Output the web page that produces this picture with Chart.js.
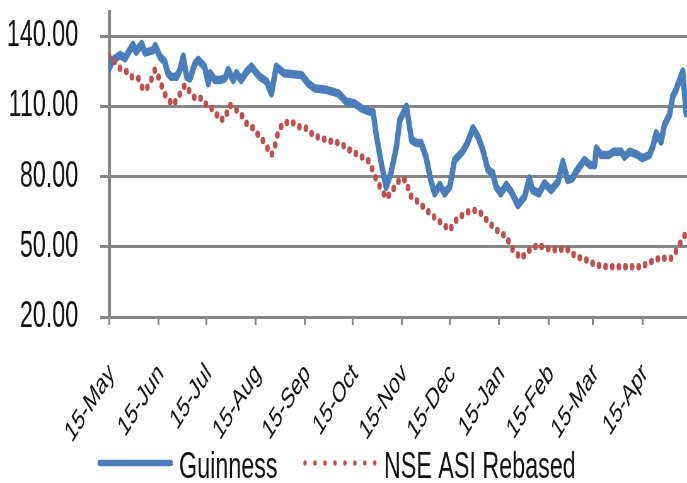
<!DOCTYPE html>
<html>
<head>
<meta charset="utf-8">
<title>Guinness vs NSE ASI</title>
<script src="https://cdn.jsdelivr.net/npm/chart.js"></script>
<style>
  html, body { margin: 0; padding: 0; background: #fff; overflow: hidden; }
  /* the source picture is squeezed sideways, so draw wide and squeeze */
  #wrap { width: 1090px; height: 483px; transform: scaleX(0.6303); transform-origin: 0 0; }
</style>
</head>
<body>
<div id="wrap"><canvas id="myChart" width="1090" height="483"></canvas></div>
<script>
// x = days after 15-May
const tickDays = [0, 31, 61, 92, 123, 153, 184, 214, 245, 276, 304, 335];
const tickLabels = ['15-May', '15-Jun', '15-Jul', '15-Aug', '15-Sep', '15-Oct',
                    '15-Nov', '15-Dec', '15-Jan', '15-Feb', '15-Mar', '15-Apr'];
const yTicks = [20, 50, 80, 110, 140];

const guinnessDays = [0, 2.5, 7, 10, 15, 17, 20.5, 22.6, 27.8, 29, 32, 35, 37, 39, 42.5, 44.5, 46.6, 48.7,
  50.8, 54, 56, 60, 62.3, 63.4, 66.5, 69.6, 72.8, 74.8, 78, 80, 83, 86.4, 89.5, 92.7, 94.7, 99, 102, 105,
  110, 121, 125, 129, 137, 144, 149, 154, 158.5, 163.7, 165.8, 168, 171, 174, 177, 180.5, 182.6, 186.8,
  190, 193, 196, 199, 202, 204.5, 207.7, 210.8, 214, 217, 222, 225, 228.5, 231.7, 234.8, 238, 241, 243,
  246, 249.5, 252.6, 256.8, 261, 264, 266, 270, 273.5, 277.7, 282, 285, 288, 291, 294, 298.6, 302, 305,
  306, 309, 314, 317, 321.6, 323.7, 327, 332, 335, 339.4, 341.5, 343.6, 346.7, 348.8, 352, 354, 356,
  360.3, 362.4];
const guinnessValues = [126.2, 129.8, 131.9, 130.5, 136.2, 133.3, 136.6, 132.9, 134, 135.7, 131.2, 129,
  124.1, 122.6, 122.6, 125.5, 131.2, 122.6, 121.9, 128.3, 129.8, 126.9, 119.8, 124.1, 121.2, 121.2, 121.9,
  125.5, 121.2, 124.1, 121.2, 124.8, 126.9, 124.1, 122.6, 120.5, 115.5, 126.9, 124.1, 123.3, 119.8, 117.7,
  116.9, 115.5, 111.9, 111.3, 109.1, 107.7, 107.7, 97, 85.6, 75.6, 81.4, 92.7, 104.1, 109.8, 95.6, 94.3,
  94.3, 88.5, 78.5, 72.8, 76.4, 72.8, 75.6, 87, 90.6, 94.2, 100.6, 97, 91.3, 82.8, 81.4, 75.6, 72.8, 76.4,
  73.5, 67.8, 71.4, 79.2, 74.2, 72.8, 77.1, 74.2, 77.8, 86.3, 78.5, 79.2, 82.8, 87, 84.9, 84.9, 92, 89.2,
  89.2, 90.6, 90.6, 88.5, 90.6, 89.2, 87.8, 89.2, 92.7, 98.5, 94.9, 102, 106.3, 114.1, 116.9, 124.8, 107];

const nseDays = [0, 3.8, 6.9, 11.1, 14.2, 18.4, 21.5, 24.7, 26.8, 28.9, 32, 34.1, 37.2, 40.3, 43.5, 47.7,
  50.8, 54, 58.2, 60.2, 63.4, 66.5, 69.6, 72.8, 75.9, 79, 83.2, 86.4, 89.5, 92.7, 95.8, 98.9, 102.1, 104.1,
  106.2, 109.3, 114.6, 118.8, 124, 128.2, 133.4, 139.7, 144.9, 151.2, 158.5, 163.7, 165.8, 168.9, 174.2,
  177.4, 181.5, 183.6, 186.8, 188.8, 195.1, 201.4, 207.7, 213.9, 218.1, 223.3, 228.5, 232.7, 238, 243.2,
  249.5, 253.6, 258.9, 264.1, 269.3, 274.6, 280.9, 287.1, 293.4, 299.7, 306, 312.2, 320.6, 326.8, 334.2,
  340.4, 345.7, 353, 357.2, 360.3, 362.4];
const nseValues = [131.2, 129, 126.2, 124.8, 122.6, 121.9, 116.9, 118.4, 121.9, 125.8, 121.2, 116.2, 112.7,
  110.5, 114.1, 119.1, 116.2, 113.4, 113.4, 111.3, 109.8, 107.7, 104.1, 104.9, 110.5, 109.1, 106.3, 102.7,
  101.3, 98.5, 96.3, 92.7, 89.2, 92.7, 99.1, 102.7, 103.4, 101.3, 100.6, 97.7, 96.3, 94.9, 94.2, 91.3,
  88.5, 86.3, 82.1, 77.1, 70.7, 73.5, 77.8, 79.2, 78.2, 72.1, 68.6, 64.3, 60.7, 57.2, 61.4, 64.3, 65.7,
  65, 60.7, 57.2, 54.3, 48.6, 45.1, 48.6, 50.8, 49.3, 48.6, 49.3, 45.8, 44.4, 42.2, 41.5, 41.5, 41.5,
  41.5, 43.6, 45.1, 45.1, 49.3, 53.6, 55.8];

const toPoints = (xs, ys) => xs.map((x, i) => ({ x: x, y: ys[i] }));

const GRID = '#868686';
const FONT = "'Liberation Sans', Arial, sans-serif";

// legend row under the axis, drawn by hand so it sits where the original has it
const legendRow = {
    id: 'legendRow',
    afterDraw(chart) {
        const ctx = chart.ctx;
        const ds = chart.data.datasets;
        const y = 463;
        ctx.save();
        ctx.lineCap = 'round';

        ctx.strokeStyle = ds[0].borderColor;
        ctx.lineWidth = 6.5;
        ctx.beginPath();
        ctx.moveTo(158, y);
        ctx.lineTo(271, y);
        ctx.stroke();

        ctx.strokeStyle = ds[1].borderColor;
        ctx.lineWidth = 5.5;
        ctx.setLineDash([0, 15.8]);
        ctx.beginPath();
        ctx.moveTo(484, y);
        ctx.lineTo(596, y);
        ctx.stroke();
        ctx.setLineDash([]);

        ctx.fillStyle = '#111';
        ctx.font = '37px ' + FONT;
        ctx.textBaseline = 'alphabetic';
        ctx.fillText(ds[0].label, 284, 478);
        ctx.fillText(ds[1].label, 609, 478);
        ctx.restore();
    }
};

const ctx = document.getElementById('myChart').getContext('2d');
new Chart(ctx, {
    type: 'line',
    data: {
        datasets: [{
            label: 'Guinness',
            data: toPoints(guinnessDays, guinnessValues),
            borderColor: '#4A7EBB',
            borderWidth: 8.5,
            borderJoinStyle: 'round',
            borderCapStyle: 'round',
            pointRadius: 0,
            tension: 0,
            order: 1
        }, {
            label: 'NSE ASI Rebased',
            data: toPoints(nseDays, nseValues),
            borderColor: '#C0504D',
            borderWidth: 7.5,
            borderDash: [0, 10.5],
            borderCapStyle: 'round',
            borderJoinStyle: 'round',
            pointRadius: 0,
            tension: 0,
            order: 0
        }]
    },
    options: {
        responsive: false,
        animation: false,
        devicePixelRatio: 1,
        layout: { padding: { top: 12.6, right: 0, bottom: 0, left: 0 } },
        plugins: {
            legend: { display: false },
            tooltip: { enabled: false }
        },
        scales: {
            x: {
                type: 'linear',
                min: 0,
                max: 363,
                afterBuildTicks: (scale) => { scale.ticks = tickDays.map(v => ({ value: v })); },
                afterFit: (scale) => {
                    scale.height = 166;
                    scale.paddingLeft = 0;
                    scale.paddingRight = 0;
                },
                grid: { drawOnChartArea: false, color: GRID, lineWidth: 3, tickLength: 8 },
                border: { color: GRID, width: 3 },
                ticks: {
                    autoSkip: false,
                    minRotation: 45,
                    maxRotation: 45,
                    padding: 32,
                    labelOffset: 4,
                    color: '#111',
                    font: { family: FONT, size: 29 },
                    callback: (v, i) => tickLabels[i]
                }
            },
            y: {
                min: 20,
                max: 150,
                afterBuildTicks: (scale) => { scale.ticks = yTicks.map(v => ({ value: v })); },
                afterFit: (scale) => {
                    scale.width = 173;
                    scale.paddingTop = 0;
                    scale.paddingBottom = 0;
                },
                grid: { color: GRID, lineWidth: 3, tickLength: 14 },
                border: { color: GRID, width: 5 },
                ticks: {
                    padding: 35,
                    color: '#111',
                    font: { family: FONT, size: 37 },
                    callback: (v) => v.toFixed(2)
                }
            }
        }
    },
    plugins: [legendRow]
});
</script>
</body>
</html>
